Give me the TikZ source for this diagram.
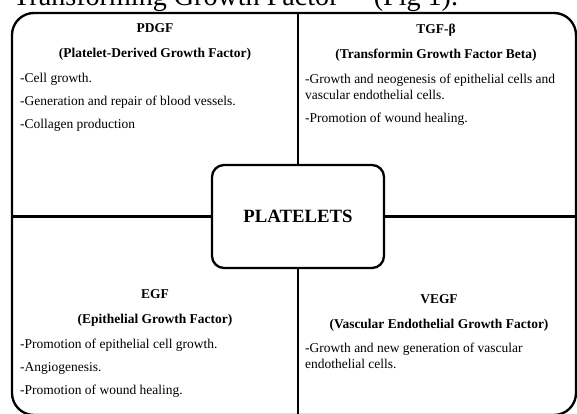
\documentclass[tikz,border=0pt]{standalone}
\usepackage{fontspec}
\setmainfont{Liberation Serif}
\usetikzlibrary{positioning}

\tikzset{
  boxline/.style={draw,line width=2pt},
  head/.style={font=\fontsize{11.5}{21}\selectfont\bfseries,align=center,anchor=base,inner sep=0pt},
  items/.style={font=\fontsize{11.5}{13.6}\selectfont,align=left,anchor=base west,inner sep=0pt},
}

\begin{document}
\begin{tikzpicture}[x=0.03cm,y=-0.03cm]
    \useasboundingbox (0,0) rectangle (577,414);
    \node[anchor=base west,inner sep=0pt,font=\fontsize{24}{28}\selectfont] (caption) at (13,5) {Transforming Growth Factor\hspace{30pt}(Fig 1).};
    \node[boxline,rounded corners=0.66cm,minimum width=16.92cm,minimum height=12.06cm,outer sep=0pt] (frame) at (294,214) {};
    \node[boxline,fill=white,rounded corners=0.36cm,minimum width=5.16cm,minimum height=3.09cm,outer sep=0pt,font=\fontsize{16}{19}\selectfont\bfseries] (platelets) at (298,216.5) {PLATELETS};
    \draw[line width=2pt] (platelets.north) -- (platelets.north |- frame.north);
    \draw[line width=2pt] (platelets.south) -- (platelets.south |- frame.south);
    \draw[line width=2pt] (platelets.west) -- (platelets.west -| frame.west);
    \draw[line width=2pt] (platelets.east) -- (platelets.east -| frame.east);
    \node[head] (pdgf) at (155,57) {PDGF\\(Platelet-Derived Growth Factor)};
    \node[items] (pdgfitems) at (20,128) {-Cell growth.\\[6pt]-Generation and repair of blood vessels.\\[6pt]-Collagen production};
    \node[head] (tgf) at (436,58) {TGF-β\\(Transformin Growth Factor Beta)};
    \node[items] (tgfitems) at (305,122) {-Growth and neogenesis of epithelial cells and\\vascular endothelial cells.\\[6pt]-Promotion of wound healing.};
    \node[head] (egf) at (155,323) {EGF\\(Epithelial Growth Factor)};
    \node[items] (egfitems) at (20,394) {-Promotion of epithelial cell growth.\\[6pt]-Angiogenesis.\\[6pt]-Promotion of wound healing.};
    \node[head] (vegf) at (439,328) {VEGF\\(Vascular Endothelial Growth Factor)};
    \node[items] (vegfitems) at (305,368) {-Growth and new generation of vascular\\endothelial cells.};
\end{tikzpicture}
\end{document}
